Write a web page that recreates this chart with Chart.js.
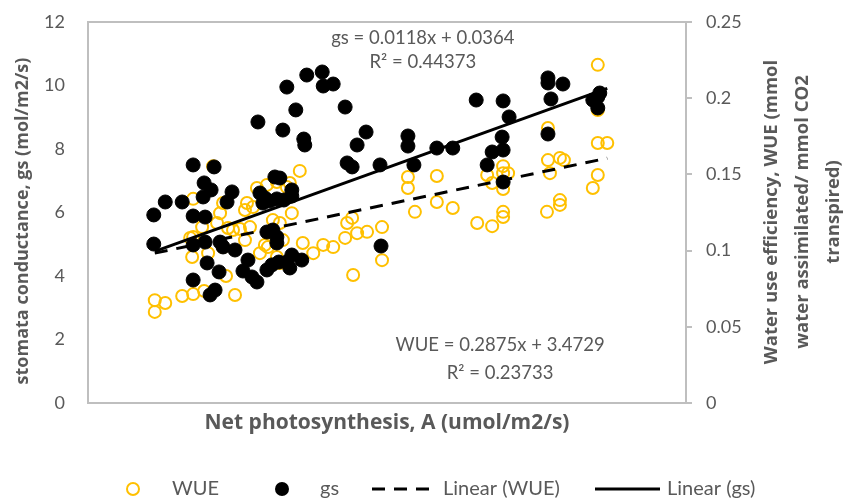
<!DOCTYPE html>
<html>
<head>
<meta charset="utf-8">
<script src="https://cdn.jsdelivr.net/npm/chart.js@4.4.0/dist/chart.umd.min.js"></script>
<style>
  html, body { margin: 0; padding: 0; background: #fff; }
  #wrap { width: 846px; height: 501px; }
</style>
</head>
<body>
<div id="wrap"><canvas id="chart" width="846" height="501"></canvas></div>
<script>
// ── Data ────────────────────────────────────────────────
// Net photosynthesis A for each WUE point, and the WUE value (left axis)
const wueA = [5.34, 5.34, 5.55, 5.89, 6.11, 6.33, 6.95, 6.77, 6.09, 6.41,
              6.11, 6.65, 6.59, 6.81, 6.29, 6.11, 6.71, 7.19, 7.31, 7.25,
              7.15, 7.45, 7.61, 7.71, 7.85, 7.91, 8.09, 7.71, 6.51, 8.25,
              7.59, 7.39, 7.79, 7.99, 7.15, 7.05, 6.91, 6.05, 6.71, 7.79,
              7.85, 8.31, 8.52, 8.72, 8.92, 9.16, 9.20, 9.30, 9.40, 9.60,
              9.90, 9.90, 9.32, 10.42, 10.42, 10.56, 11.00, 11.00, 11.32, 11.81,
              12.11, 12.01, 12.11, 12.33, 12.33, 12.43, 12.33, 12.33, 12.33, 13.23,
              13.23, 13.27, 13.21, 13.47, 13.55, 13.47, 13.47, 14.23, 14.23, 14.23,
              14.42, 14.23, 14.13, 8.05, 7.55];
const wueVal = [3.24, 2.87, 3.15, 3.37, 3.43, 3.53, 3.40, 4.00, 4.60, 4.72,
                5.23, 5.98, 5.67, 5.51, 5.54, 6.43, 6.30, 6.30, 6.17, 5.54,
                5.13, 4.72, 4.91, 5.35, 5.67, 5.13, 5.98, 5.76, 7.46, 7.31,
                6.87, 6.77, 6.96, 6.80, 6.08, 5.48, 5.45, 5.20, 4.91, 4.60,
                4.41, 5.04, 4.72, 4.98, 4.91, 5.20, 5.67, 5.83, 5.35, 5.39,
                5.54, 4.50, 4.03, 7.12, 6.77, 6.02, 7.15, 6.33, 6.14, 5.67,
                5.57, 7.18, 6.93, 7.46, 7.24, 7.24, 6.74, 6.02, 5.86, 8.66,
                7.65, 7.24, 6.02, 7.72, 7.65, 6.39, 6.24, 10.65, 9.23, 8.19,
                8.19, 7.18, 6.77, 6.93, 4.98];

// Net photosynthesis A for each gs point, and gs (right axis)
const gsA = [5.32, 5.32, 5.55, 5.89, 6.11, 6.11, 6.35, 6.31, 6.33, 6.47,
             6.53, 6.89, 6.79, 7.41, 7.91, 7.99, 8.17, 8.33, 8.35, 8.39,
             8.70, 8.72, 8.92, 9.16, 9.58, 9.40, 9.20, 9.30, 9.86, 10.42,
             10.42, 10.54, 7.45, 7.55, 7.65, 7.79, 7.75, 7.85, 7.93, 8.09,
             8.09, 7.51, 6.11, 6.35, 6.65, 6.71, 6.95, 7.59, 7.71, 7.79,
             7.79, 6.39, 6.63, 6.11, 6.55, 6.45, 7.21, 7.11, 7.29, 7.39,
             7.59, 7.69, 7.83, 7.99, 8.09, 8.29, 8.05, 9.88, 11.00, 11.32,
             11.79, 12.33, 12.45, 12.31, 12.33, 12.11, 12.01, 12.33, 13.23, 13.23,
             13.53, 13.29, 13.23, 14.13, 14.23, 14.23, 14.27];
const gsVal = [0.1234, 0.1043, 0.1319, 0.1319, 0.1562, 0.1227, 0.1220, 0.1352, 0.1444, 0.1398,
               0.1549, 0.1385, 0.1319, 0.1844, 0.1791, 0.2073, 0.1923, 0.1732, 0.1693, 0.2152,
               0.2172, 0.2080, 0.2093, 0.1942, 0.1778, 0.1693, 0.1575, 0.1549, 0.1562, 0.1752,
               0.1686, 0.1562, 0.1378, 0.1345, 0.1325, 0.1339, 0.1483, 0.1476, 0.1332, 0.1398,
               0.1358, 0.1312, 0.1037, 0.1056, 0.1056, 0.1024, 0.1004, 0.1122, 0.1135, 0.1089,
               0.1050, 0.0919, 0.0860, 0.0807, 0.0741, 0.0709, 0.0938, 0.0866, 0.0827, 0.0794,
               0.0873, 0.0906, 0.0925, 0.0925, 0.0971, 0.0938, 0.0886, 0.1030, 0.1673, 0.1673,
               0.1988, 0.1982, 0.1877, 0.1745, 0.1660, 0.1647, 0.1562, 0.1450, 0.2133, 0.2100,
               0.2093, 0.1995, 0.1765, 0.1988, 0.2008, 0.1936, 0.2034];

// Trend lines (ends at first / last A)
const trendA   = [5.34, 14.42];
const trendWue = [4.72, 7.71];
const trendGs  = [0.0995, 0.2065];

const leftTicks  = [0, 2, 4, 6, 8, 10, 12];
const rightTicks = [0, 0.05, 0.1, 0.15, 0.2, 0.25];

const eqGs   = ["gs = 0.0118x + 0.0364", "R\u00b2 = 0.44373"];
const eqWue  = ["WUE = 0.2875x + 3.4729", "R\u00b2 = 0.23733"];

// ── Styling ──────────────────────────────────────────────
const GREY  = "#595959";
const FRAME = "#bfbfbf";
const GOLD  = "#ffc000";
const FONT  = "Lato, 'Open Sans', sans-serif";
const BOLDF = "'Open Sans', sans-serif";

const pts = (xs, ys) => xs.map((x, i) => ({ x: x, y: ys[i] }));

// keep the plot box where the reference has it
const noOverflow = s => { s.paddingTop = 0; s.paddingBottom = 0; };

// ── Extra drawing: frame, titles, equations, legend ─────
const decor = {
  id: "decor",
  beforeDatasetsDraw(chart) {
    const { ctx, chartArea: a } = chart;
    ctx.save();
    ctx.strokeStyle = FRAME;
    ctx.lineWidth = 2;
    ctx.strokeRect(a.left, a.top, a.right - a.left, a.bottom - a.top);
    ctx.restore();
  },
  afterDraw(chart) {
    const { ctx, chartArea: a, scales } = chart;
    ctx.save();
    ctx.fillStyle = GREY;
    ctx.textAlign = "center";
    ctx.textBaseline = "middle";

    // x title
    ctx.font = "bold 21px " + BOLDF;
    ctx.fillText("Net photosynthesis, A (umol/m2/s)", (a.left + a.right) / 2, 423);

    // left title
    ctx.font = "bold 18px " + BOLDF;
    ctx.save();
    ctx.translate(23, 221);
    ctx.rotate(-Math.PI / 2);
    ctx.fillText("stomata conductance, gs (mol/m2/s)", 0, 0);
    ctx.restore();

    // right title (3 lines, reads bottom-up)
    ctx.font = "bold 18.5px " + BOLDF;
    const rt = ["Water use efficiency, WUE (mmol", "water assimilated/ mmol CO2", "transpired)"];
    ctx.save();
    ctx.translate(772, 212);
    ctx.rotate(-Math.PI / 2);
    rt.forEach((t, i) => ctx.fillText(t, 0, i * 31));
    ctx.restore();

    // trend equations, placed in data coordinates
    ctx.font = "18.5px " + FONT;
    const put = (lines, ax, ay, gap) => {
      const px = scales.x.getPixelForValue(ax);
      const py = scales.y.getPixelForValue(ay);
      lines.forEach((t, i) => ctx.fillText(t, px, py + i * gap));
    };
    put(eqGs, 10.72, 11.5, 24);
    put(eqWue, 12.27, 1.83, 28);

    // legend
    const ly = 489;
    ctx.textAlign = "left";
    ctx.font = "20px " + FONT;
    ctx.lineWidth = 2;
    ctx.strokeStyle = GOLD;
    ctx.beginPath(); ctx.arc(133, ly, 6, 0, Math.PI * 2); ctx.stroke();
    ctx.fillText("WUE", 172, ly);
    ctx.fillStyle = "#000";
    ctx.beginPath(); ctx.arc(282, ly, 7, 0, Math.PI * 2); ctx.fill();
    ctx.fillStyle = GREY;
    ctx.fillText("gs", 320, ly);
    ctx.strokeStyle = "#000";
    ctx.lineWidth = 3;
    ctx.setLineDash([13, 9]);
    ctx.beginPath(); ctx.moveTo(372, ly); ctx.lineTo(436, ly); ctx.stroke();
    ctx.setLineDash([]);
    ctx.fillText("Linear (WUE)", 443, ly);
    ctx.beginPath(); ctx.moveTo(595, ly); ctx.lineTo(660, ly); ctx.stroke();
    ctx.fillText("Linear (gs)", 667, ly);
    ctx.restore();
  }
};

const tickFont = { family: FONT, size: 18 };

new Chart(document.getElementById("chart"), {
  type: "scatter",
  data: {
    datasets: [
      {
        label: "Linear (gs)",
        type: "line",
        data: pts(trendA, trendGs),
        yAxisID: "y1",
        borderColor: "#000",
        borderWidth: 3,
        pointRadius: 0,
        order: 0
      },
      {
        label: "Linear (WUE)",
        type: "line",
        data: pts(trendA, trendWue),
        yAxisID: "y",
        borderColor: "#000",
        borderWidth: 3,
        borderDash: [13, 9],
        pointRadius: 0,
        order: 1
      },
      {
        label: "gs",
        data: pts(gsA, gsVal),
        yAxisID: "y1",
        pointRadius: 7,
        pointBackgroundColor: "#000",
        pointBorderColor: "#000",
        pointBorderWidth: 1,
        order: 2
      },
      {
        label: "WUE",
        data: pts(wueA, wueVal),
        yAxisID: "y",
        pointRadius: 6,
        pointBackgroundColor: "rgba(0,0,0,0)",
        pointBorderColor: GOLD,
        pointBorderWidth: 2,
        order: 3
      }
    ]
  },
  options: {
    responsive: false,
    animation: false,
    layout: { padding: { top: 22, left: 0, right: 0, bottom: 0 } },
    plugins: {
      legend: { display: false },
      tooltip: { enabled: false }
    },
    scales: {
      x: {
        type: "linear",
        min: 4,
        max: 16,
        ticks: { display: false },
        grid: { display: false },
        border: { color: FRAME, width: 2 },
        afterFit: s => { s.height = 98; s.paddingLeft = 0; s.paddingRight = 0; }
      },
      y: {
        position: "left",
        min: 0,
        max: 12,
        afterBuildTicks: s => { s.ticks = leftTicks.map(v => ({ value: v })); },
        ticks: { color: GREY, font: tickFont, padding: 23 },
        grid: { display: false, drawTicks: false },
        border: { color: FRAME, width: 2 },
        afterFit: s => { s.width = 88; noOverflow(s); }
      },
      y1: {
        position: "right",
        min: 0,
        max: 0.25,
        afterBuildTicks: s => { s.ticks = rightTicks.map(v => ({ value: v })); },
        ticks: {
          color: GREY,
          font: tickFont,
          padding: 14,
          callback: v => String(+v.toFixed(2))
        },
        grid: { drawOnChartArea: false, drawTicks: true, tickLength: 6, color: FRAME, lineWidth: 2 },
        border: { color: FRAME, width: 2 },
        afterFit: s => { s.width = 160; noOverflow(s); }
      }
    }
  },
  plugins: [decor]
});
</script>
</body>
</html>
